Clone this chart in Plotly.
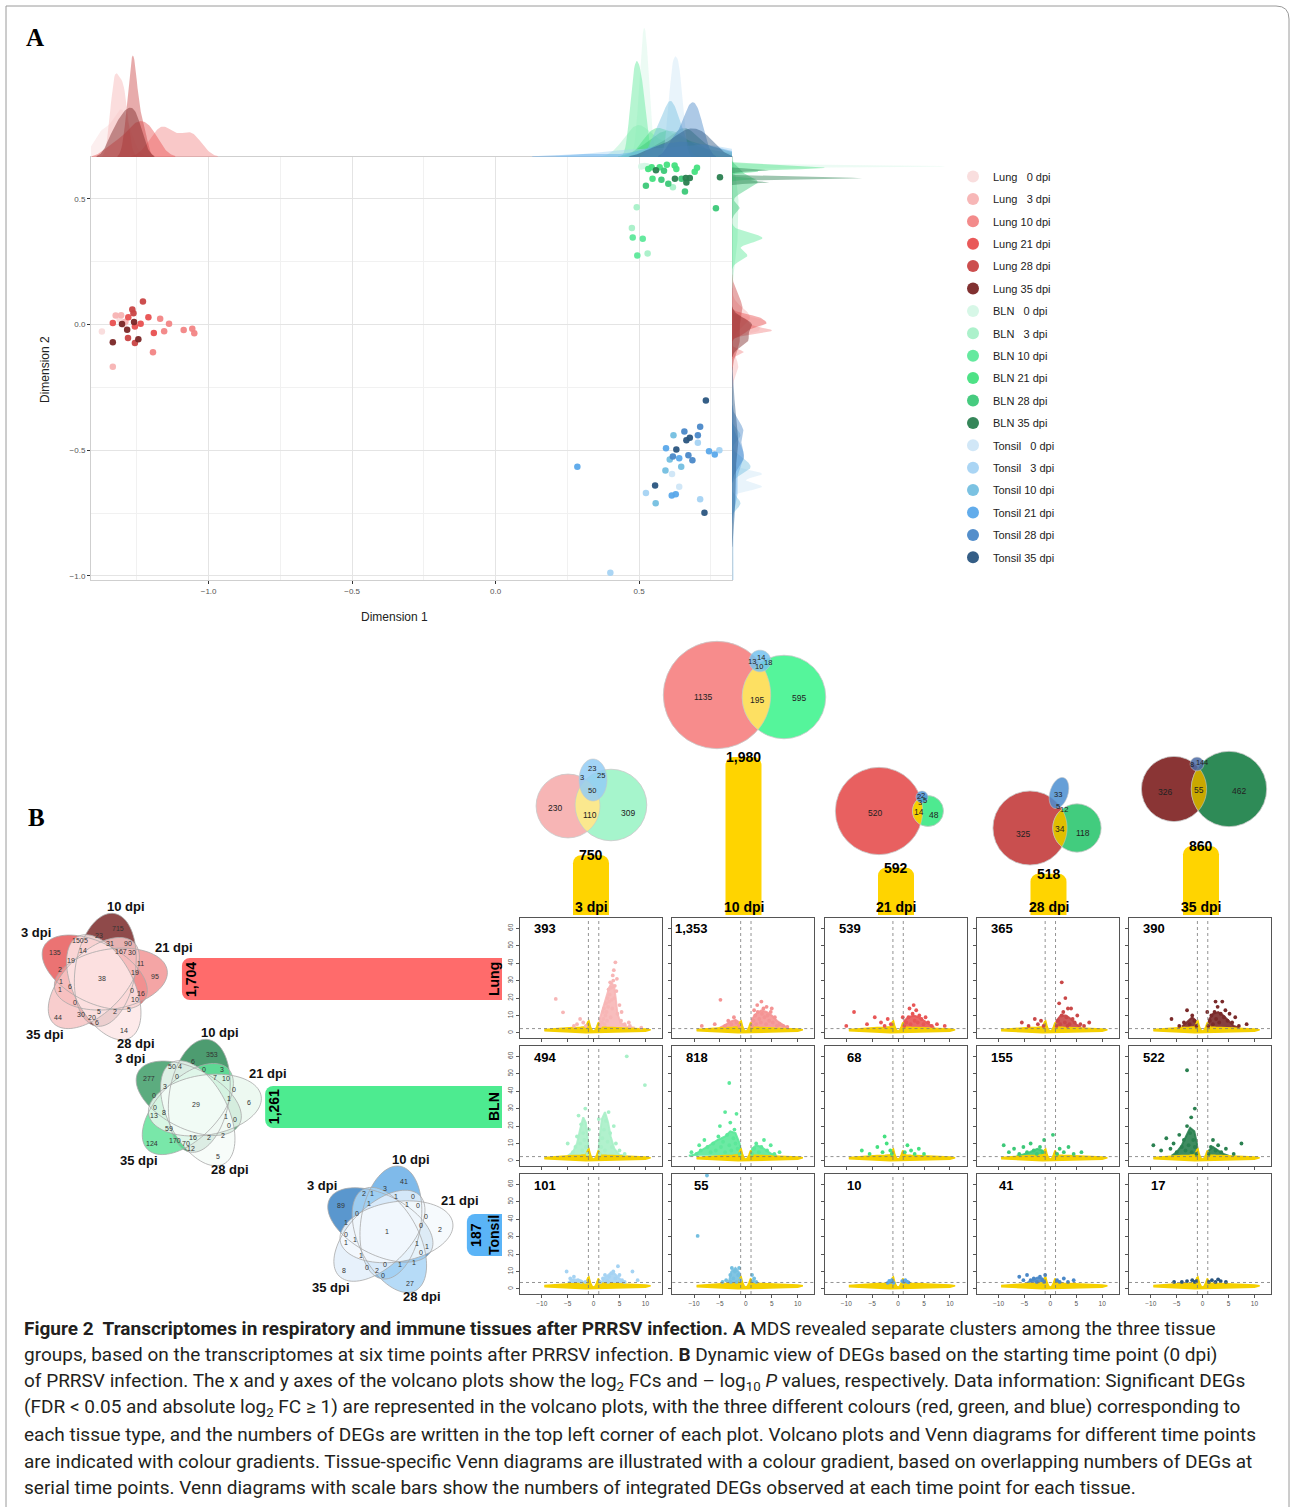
import numpy as np
import plotly.graph_objects as go

W, H = 1290, 1507
BASE = "Liberation Sans, Arial, sans-serif"

# ============================ DATA ============================
# ---- Panel A: MDS coordinates (Dimension 1, Dimension 2) ----
lung_0 = [(-1.372, -0.027), (-1.31, 0.02), (-1.295, 0.0)]
lung_3 = [(-1.334, -0.168), (-1.324, 0.036), (-1.305, 0.037), (-1.29, 0.012)]
lung_10 = [(-1.194, -0.110), (-1.169, 0.023), (-1.155, -0.026), (-1.138, 0.004),
           (-1.087, -0.021), (-1.057, -0.016), (-1.050, -0.034)]
lung_21 = [(-1.334, 0.007), (-1.28, 0.029), (-1.257, -0.007), (-1.237, 0.004),
           (-1.21, 0.029), (-1.191, -0.033)]
lung_28 = [(-1.229, 0.092), (-1.281, -0.053), (-1.266, 0.060), (-1.257, -0.073), (-1.262, 0.045)]
lung_35 = [(-1.334, -0.070), (-1.302, 0.003), (-1.284, -0.020), (-1.26, 0.011), (-1.245, -0.058)]
bln_0 = [(0.508, 0.629), (0.519, 0.631), (0.527, 0.630)]
bln_3 = [(0.475, 0.385), (0.530, 0.283), (0.618, 0.547), (0.492, 0.467)]
bln_10 = [(0.478, 0.347), (0.513, 0.342), (0.494, 0.275)]
bln_21 = [(0.532, 0.619), (0.544, 0.626), (0.572, 0.626), (0.597, 0.636), (0.624, 0.633),
          (0.63, 0.619), (0.694, 0.608), (0.702, 0.624), (0.547, 0.580)]
bln_28 = [(0.524, 0.553), (0.578, 0.576), (0.602, 0.561), (0.587, 0.612), (0.648, 0.580),
          (0.66, 0.530), (0.768, 0.463)]
bln_35 = [(0.559, 0.614), (0.625, 0.580), (0.663, 0.583), (0.677, 0.583), (0.665, 0.566), (0.782, 0.586)]
tonsil_0 = [(0.64, -0.645), (0.615, -0.594)]
tonsil_3 = [(0.40, -0.987), (0.524, -0.67), (0.713, -0.695), (0.78, -0.50), (0.705, -0.47)]
tonsil_10 = [(0.62, -0.44), (0.607, -0.537), (0.647, -0.565), (0.592, -0.58), (0.558, -0.711)]
tonsil_21 = [(0.285, -0.565), (0.594, -0.492), (0.64, -0.532), (0.744, -0.504), (0.764, -0.517),
             (0.614, -0.68), (0.628, -0.675)]
tonsil_28 = [(0.713, -0.406), (0.705, -0.44), (0.658, -0.425), (0.618, -0.525), (0.672, -0.52), (0.686, -0.54)]
tonsil_35 = [(0.733, -0.302), (0.677, -0.45), (0.665, -0.46), (0.63, -0.497), (0.556, -0.640), (0.728, -0.748)]

mds_names = ["Lung\u00a0\u00a0\u00a00 dpi", "Lung\u00a0\u00a0\u00a03 dpi", "Lung 10 dpi", "Lung 21 dpi",
             "Lung 28 dpi", "Lung 35 dpi",
             "BLN\u00a0\u00a0\u00a00 dpi", "BLN\u00a0\u00a0\u00a03 dpi", "BLN 10 dpi", "BLN 21 dpi",
             "BLN 28 dpi", "BLN 35 dpi",
             "Tonsil\u00a0\u00a0\u00a00 dpi", "Tonsil\u00a0\u00a0\u00a03 dpi", "Tonsil 10 dpi", "Tonsil 21 dpi",
             "Tonsil 28 dpi", "Tonsil 35 dpi"]
mds_points = [lung_0, lung_3, lung_10, lung_21, lung_28, lung_35,
              bln_0, bln_3, bln_10, bln_21, bln_28, bln_35,
              tonsil_0, tonsil_3, tonsil_10, tonsil_21, tonsil_28, tonsil_35]
mds_colors = ["#f9dcdc", "#f7b3b3", "#f28585", "#e85050", "#c94545", "#7a2626",
              "#d5f7e6", "#a8f0c8", "#5de89a", "#44e080", "#3cc878", "#2a8050",
              "#cfe6f7", "#a5d3f3", "#74bfe0", "#5aa8ea", "#4a88c8", "#2a5580"]

# ---- Panel B ----
time_points = ["3 dpi", "10 dpi", "21 dpi", "28 dpi", "35 dpi"]
integrated_degs = [750, 1980, 592, 518, 860]
tissues = ["Lung", "BLN", "Tonsil"]
tissue_degs = [1704, 1261, 187]
deg_lung = [393, 1353, 539, 365, 390]
deg_bln = [494, 818, 68, 155, 522]
deg_tonsil = [101, 55, 10, 41, 17]

# volcano plots: individual significant DEGs (log2FC, -log10 P)
volc_lung_3 = [(1.3, 4), (1.6, 6), (1.9, 8), (2.1, 5), (2.3, 10), (2.5, 12), (2.6, 7), (2.8, 15), (3.0, 18),
               (3.1, 22), (3.3, 9), (3.4, 26), (3.6, 14), (3.8, 30), (4.0, 20), (4.2, 40.5), (4.4, 24),
               (4.6, 11), (5.0, 16), (5.3, 7), (6.0, 5), (7.0, 4), (9.2, 3), (-1.5, 4), (-2.0, 6),
               (-2.6, 8), (-3.2, 5), (-3.8, 4), (-5.9, 11.8), (-7.3, 19.5), (1.8, 12), (2.4, 17),
               (3.2, 29), (3.7, 33), (2.9, 25), (2.0, 14), (2.7, 20), (3.5, 19), (4.1, 27), (4.5, 31),
               (3.9, 36), (5.4, 12), (6.8, 6)]
volc_lung_10 = [(1.2, 4), (1.5, 7), (1.8, 10), (2.0, 5), (2.3, 12), (2.6, 8), (2.9, 6), (3.1, 11), (3.4, 14),
                (3.6, 9), (3.9, 5), (4.2, 10), (4.5, 7), (4.8, 12), (5.2, 6), (5.6, 9), (6.0, 4), (6.5, 5),
                (7.2, 4), (8.0, 3.5), (2.2, 16), (3.0, 18), (-1.3, 4), (-1.8, 6), (-2.3, 9), (-2.8, 5),
                (-3.4, 7), (-4.0, 4), (-4.9, 19), (-6.0, 5), (-8.5, 4), (1.6, 13), (4.0, 15), (5.0, 14)]
volc_lung_21 = [(1.2, 4), (1.6, 6), (2.0, 9), (2.4, 5), (2.8, 11), (3.2, 7), (3.5, 13), (3.8, 6), (4.1, 10),
                (4.5, 8), (4.9, 5), (5.3, 9), (5.8, 6), (6.5, 4), (7.5, 5), (9.0, 4), (-1.4, 5), (-2.0, 8),
                (-2.6, 4), (-3.3, 6), (-4.5, 9), (-6.0, 5), (-8.5, 12), (-10.0, 4), (2.2, 14), (3.0, 16),
                (0.9, 9)]
volc_lung_28 = [(1.2, 4), (1.5, 7), (1.9, 5), (2.2, 10), (2.2, 29), (2.5, 12), (2.8, 6), (3.1, 9), (3.4, 14),
                (3.7, 5), (4.0, 14), (4.3, 8), (4.7, 6), (5.2, 10), (5.8, 5), (6.5, 4), (7.5, 6), (-1.3, 4),
                (-1.8, 7), (-2.4, 5), (-3.0, 8), (-4.2, 4), (-5.5, 6), (1.7, 17), (2.9, 20), (3.3, 4)]
volc_lung_35 = [(1.1, 4), (1.4, 7), (1.7, 10), (2.0, 5), (2.3, 12), (2.6, 8), (2.9, 15), (3.2, 6), (3.5, 11),
                (3.8, 18), (4.1, 9), (4.4, 13), (4.8, 7), (5.2, 11), (5.7, 6), (6.3, 9), (7.0, 4), (8.5, 5),
                (-1.2, 4), (-1.6, 7), (-2.0, 10), (-2.5, 5), (-3.0, 13), (-3.6, 6), (-4.5, 4), (-6.0, 8),
                (2.5, 18), (0.9, 12)]
volc_bln_3 = [(-1.2, 4), (-1.5, 8), (-1.8, 12), (-2.0, 16), (-2.2, 6), (-2.4, 21), (-2.6, 10), (-2.9, 26),
              (-3.2, 14), (-3.5, 8), (-4.0, 5), (-5.0, 10), (-1.6, 30), (1.2, 4), (1.5, 8), (1.7, 13),
              (2.0, 18), (2.2, 6), (2.4, 23), (2.7, 11), (2.9, 28), (3.2, 16), (3.5, 8), (3.9, 20),
              (4.3, 10), (5.0, 6), (6.0, 4), (6.4, 60), (9.9, 43.5), (-0.9, 18), (1.0, 24)]
volc_bln_10 = [(-1.2, 4), (-1.6, 7), (-2.0, 10), (-2.4, 13), (-2.8, 6), (-3.2, 9), (-3.6, 15), (-4.0, 5),
               (-4.4, 11), (-4.8, 8), (-5.3, 14), (-5.8, 6), (-6.3, 10), (-6.8, 5), (-7.4, 8), (-8.0, 12),
               (-8.7, 6), (-9.5, 4), (-2.2, 18), (-3.0, 22), (-1.8, 27), (-3.2, 44.7), (1.2, 4), (1.6, 7),
               (2.0, 10), (2.5, 5), (3.0, 8), (3.5, 12), (4.1, 6), (4.8, 9), (5.5, 4), (6.5, 5),
               (-5.0, 20), (-4.0, 28), (-10.5, 5), (-9.0, 9)]
volc_bln_21 = [(-7.0, 6), (-5.5, 4), (-4.0, 8), (-3.0, 5), (-2.2, 10), (-1.5, 6), (-1.2, 4), (1.3, 5),
               (1.8, 9), (2.5, 6), (3.2, 4), (4.0, 7), (5.0, 4), (-2.6, 14)]
volc_bln_28 = [(-9.0, 9), (-8.0, 5), (-7.0, 7), (-6.0, 4), (-5.2, 8), (-4.5, 5), (-3.8, 10), (-3.2, 6),
               (-2.6, 4), (-2.0, 8), (-1.5, 5), (-1.2, 12), (1.3, 4), (1.8, 7), (2.6, 5), (3.5, 8),
               (4.5, 4), (6.0, 5), (0.5, 15)]
volc_bln_35 = [(-1.2, 4), (-1.5, 8), (-1.8, 12), (-2.1, 5), (-2.4, 16), (-2.7, 9), (-3.0, 20), (-3.3, 6),
               (-3.6, 12), (-4.0, 8), (-4.5, 15), (-5.0, 5), (-5.6, 10), (-6.2, 7), (-7.0, 13), (-8.0, 6),
               (-9.5, 9), (-3.0, 52), (-2.2, 25), (-1.5, 30), (1.2, 4), (1.6, 8), (2.0, 12), (2.5, 6),
               (3.0, 9), (3.6, 5), (4.5, 7), (6.0, 4), (7.5, 10)]
volc_tonsil_3 = [(-5.2, 10), (-4.5, 6), (-3.8, 7), (-3.0, 5), (-2.4, 4), (-1.6, 4), (-4.0, 4.5), (1.3, 4),
                 (1.8, 6), (2.2, 8), (2.6, 5), (3.0, 7), (3.4, 9), (3.8, 10), (4.2, 6), (4.7, 13), (5.0, 8),
                 (5.5, 5), (6.0, 4), (7.5, 10), (8.5, 5), (2.8, 4)]
volc_tonsil_10 = [(-7.5, 65), (-9.3, 30.4), (-3.0, 8), (-2.7, 12), (-2.4, 6), (-2.1, 10), (-1.8, 4),
                  (-1.5, 8), (-1.3, 12), (-1.1, 5), (-2.9, 4), (-3.8, 5), (-4.5, 4), (1.2, 8), (1.6, 6),
                  (2.0, 4), (1.4, 4.5)]
volc_tonsil_21 = [(-1.5, 4), (-1.2, 5), (-0.9, 3.5), (1.1, 4), (1.4, 5), (0.8, 4.5), (-2.0, 3.5), (2.0, 3.8),
                  (1.7, 4.2), (-1.7, 4.6)]
volc_tonsil_28 = [(-6.0, 7), (-5.2, 5), (-4.5, 8), (-3.8, 5), (-3.2, 6), (-2.6, 4), (-2.0, 7), (-1.5, 5),
                  (-1.2, 4), (1.3, 5), (1.8, 4), (2.6, 6), (3.4, 4), (4.5, 5), (-1.0, 8)]
volc_tonsil_35 = [(-4.0, 4), (-3.0, 4.5), (-2.0, 5), (-1.5, 4), (-1.2, 4.5), (1.2, 4), (1.8, 5), (2.5, 4),
                  (3.5, 4.5), (4.5, 4), (-5.5, 4), (3.0, 5.5)]

# outlines of the densest clouds of significant DEGs in each volcano plot
cloud_lung_3 = [[(1.0, 3), (1.2, 8), (1.8, 14), (2.4, 20), (3.0, 26), (3.5, 29), (4.0, 26), (4.3, 19),
                 (4.6, 11), (5.2, 6), (6.5, 3.5), (8.0, 3)]]
cloud_lung_10 = [[(0.9, 3), (1.2, 8), (2.0, 11), (3.0, 13), (4.0, 12), (5.0, 10), (6.0, 7), (7.0, 5), (8.0, 3)],
                 [(-1.0, 3), (-1.3, 6), (-2.0, 7.5), (-3.0, 6.5), (-4.0, 4.5), (-5.0, 3)]]
cloud_lung_21 = [[(0.9, 3), (1.2, 7), (2.0, 9), (3.0, 10), (4.0, 9), (5.0, 7), (6.0, 4.5), (7.0, 3)]]
cloud_lung_28 = [[(0.9, 3), (1.2, 7), (2.0, 10), (3.0, 10), (4.0, 8), (5.0, 5), (6.0, 3)]]
cloud_lung_35 = [[(0.9, 3), (1.3, 8), (2.0, 11), (3.0, 12), (4.0, 10), (5.0, 7), (6.0, 4), (7.0, 3)],
                 [(-1.0, 3), (-1.3, 7), (-2.0, 9), (-3.0, 6), (-4.0, 3.5)]]
cloud_bln_3 = [[(-0.9, 3), (-1.1, 12), (-1.5, 22), (-2.0, 25), (-2.6, 18), (-3.2, 10), (-4.0, 5), (-5.0, 3)],
               [(0.9, 3), (1.1, 12), (1.6, 24), (2.2, 28), (2.8, 22), (3.3, 14), (4.0, 7), (5.0, 3.5),
                (6.0, 3)]]
cloud_bln_10 = [[(-0.9, 3), (-1.2, 10), (-2.0, 16), (-3.0, 17), (-4.0, 14), (-5.5, 12), (-7.0, 9),
                 (-8.5, 6), (-10.0, 3.5), (-11.0, 3)],
                [(0.9, 3), (1.2, 7), (2.0, 9), (3.0, 8), (4.0, 6), (5.0, 4), (6.0, 3)]]
cloud_bln_21 = []
cloud_bln_28 = [[(-1.0, 3), (-1.5, 6), (-2.5, 7), (-4.0, 5), (-5.5, 3.5), (-6.5, 3)]]
cloud_bln_35 = [[(-0.9, 3), (-1.1, 10), (-1.6, 17), (-2.4, 19), (-3.2, 14), (-4.0, 9), (-5.0, 5), (-6.0, 3)],
                [(0.9, 3), (1.2, 6), (2.0, 8), (3.0, 6), (4.0, 4), (5.0, 3)]]
cloud_tonsil_3 = [[(1.5, 3), (2.0, 6), (3.0, 8.5), (4.0, 9), (5.0, 6), (5.8, 3)],
                  [(-1.5, 3), (-2.5, 5), (-4.0, 5.5), (-5.0, 3.5)]]
cloud_tonsil_10 = [[(-1.0, 3.5), (-1.2, 9), (-2.0, 12), (-2.8, 10), (-3.2, 5), (-3.5, 3.5)]]
cloud_tonsil_21 = []
cloud_tonsil_28 = [[(-1.0, 3.5), (-1.5, 6), (-2.5, 6.5), (-3.5, 5), (-4.5, 3.5)]]
cloud_tonsil_35 = []

# outline of the dense cloud of non-significant genes (yellow)
nonsig_x = [-9.5, -8, -6, -4, -2.5, -1.5, -1.1, -0.9, -0.6, -0.3, 0, 0.3, 0.6, 0.9, 1.1, 1.5, 2.5, 4, 6, 8,
            10, 11, 10, 8, 6, 4, 2.5, 1.5, 0.8, 0.3, 0, -0.3, -0.8, -1.5, -2.5, -4, -6, -8, -9.5]
nonsig_y = [2.0, 2.4, 2.8, 3.1, 3.3, 3.6, 6.5, 7.0, 3.5, 1.6, 1.0, 1.6, 3.5, 6.0, 5.0, 3.4, 3.2, 3.1, 2.9,
            2.6, 2.3, 1.8, 1.0, 0.8, 0.6, 0.4, 0.25, 0.1, 0, 0, 0, 0, 0, 0.1, 0.25, 0.4, 0.6, 0.8, 1.2]
sig_threshold = [2.5, 2.5, 3.7]

# tissue-overlap Venn diagrams per time point
venn3_3dpi = [230, 110, 309, 50, 23, 25, 3]
venn3_10dpi = [1135, 195, 595, 13, 14, 10, 18]
venn3_21dpi = [520, 14, 48, 2, 2, 3, 5]
venn3_28dpi = [325, 34, 118, 33, 5, 12]
venn3_35dpi = [326, 55, 462, 8, 1, 4, 4]

# time-point Venn diagrams per tissue (31 regions)
venn5_lung = [715, 23, 150, 5, 31, 90, 14, 167, 30, 135, 19, 11, 2, 19, 95, 1, 6, 1, 0, 16, 10, 0, 5, 2, 5,
              44, 30, 20, 6, 14, 38]
venn5_bln = [353, 6, 50, 4, 0, 3, 0, 7, 10, 277, 3, 0, 0, 1, 6, 0, 8, 13, 1, 0, 0, 59, 16, 2, 2, 124, 170,
             70, 12, 5, 29]
venn5_tonsil = [41, 3, 2, 1, 1, 0, 1, 1, 0, 89, 0, 0, 1, 0, 2, 0, 1, 1, 1, 1, 0, 1, 0, 1, 1, 8, 0, 2, 0,
                27, 1]


# ============================ HELPERS ============================
def rgba(h, a):
    h = h.lstrip("#")
    return "rgba(%d,%d,%d,%.3f)" % (int(h[0:2], 16), int(h[2:4], 16), int(h[4:6], 16), a)


def kde(vals, grid, floor, robust=True):
    v = np.asarray(vals, float)
    n = len(v)
    sd = v.std(ddof=1) if n > 1 else 0.05
    q75, q25 = np.percentile(v, [75, 25])
    s = min(sd, (q75 - q25) / 1.34) if (robust and q75 > q25) else sd
    bw = max(0.9 * s * n ** (-0.2), floor)
    return np.exp(-0.5 * ((grid[:, None] - v[None, :]) / bw) ** 2).sum(1) / (n * bw * np.sqrt(2 * np.pi))


def support(grid, dens, thr):
    keep = dens > thr
    return grid[keep], dens[keep]


def ell_path(cx, cy, a, b, ang_deg, n=90):
    t = np.linspace(0, 2 * np.pi, n, endpoint=False)
    ang = np.radians(ang_deg)
    xs = cx + b * np.cos(t) * np.cos(ang) - a * np.sin(t) * np.sin(ang)
    ys = cy + b * np.cos(t) * np.sin(ang) + a * np.sin(t) * np.cos(ang)
    return "M" + " L".join("%.2f,%.2f" % (x, y) for x, y in zip(xs, ys)) + " Z"


def lens_path(c1, r1, c2, r2, n=40):
    dx, dy = c2[0] - c1[0], c2[1] - c1[1]
    d = np.hypot(dx, dy)
    a = (r1 ** 2 - r2 ** 2 + d ** 2) / (2 * d)
    th = np.arctan2(dy, dx)
    al1 = np.arccos(np.clip(a / r1, -1, 1))
    al2 = np.arccos(np.clip((d - a) / r2, -1, 1))
    t1 = np.linspace(th - al1, th + al1, n)
    p1 = [(c1[0] + r1 * np.cos(t), c1[1] + r1 * np.sin(t)) for t in t1]
    t2 = np.linspace(th + np.pi - al2, th + np.pi + al2, n)
    p2 = [(c2[0] + r2 * np.cos(t), c2[1] + r2 * np.sin(t)) for t in t2]
    if np.hypot(p2[0][0] - p1[-1][0], p2[0][1] - p1[-1][1]) > 1:
        p2 = p2[::-1]
    pts = p1 + p2
    return "M" + " L".join("%.2f,%.2f" % p for p in pts) + " Z"


fig = go.Figure()
layout = {}
shapes = []
anns = []
PX, PY = "x21", "y21"


def txt(text, x, y, size, color="#111", angle=0, xanchor="center", yanchor="middle", family=BASE):
    anns.append(dict(text=text, x=x, y=y, xref=PX, yref=PY, showarrow=False, textangle=angle,
                     xanchor=xanchor, yanchor=yanchor, font=dict(size=size, color=color, family=family)))


# ============================ PANEL A ============================
XR = [-1.41, 0.824]
YR = [-1.016, 0.667]
tick_txt = ["\u22121.0", "\u22120.5", "0.0", "0.5"]
layout["xaxis"] = dict(domain=[91 / W, 732 / W], range=XR, anchor="y", tickvals=[-1, -0.5, 0, 0.5],
                       ticktext=tick_txt, showgrid=True, gridcolor="#e4e4e4", gridwidth=1,
                       minor=dict(tickvals=[-1.25, -0.75, -0.25, 0.25, 0.75], showgrid=True,
                                  gridcolor="#f1f1f1", gridwidth=1),
                       showline=True, linecolor="#cfcfcf", mirror=True, ticks="outside", ticklen=3,
                       tickcolor="#333", tickfont=dict(size=8, color="#555", family=BASE), zeroline=False)
layout["yaxis"] = dict(domain=[1 - 580 / H, 1 - 157 / H], range=YR, anchor="x", tickvals=[-1, -0.5, 0, 0.5],
                       ticktext=tick_txt, showgrid=True, gridcolor="#e4e4e4", gridwidth=1,
                       minor=dict(tickvals=[-0.75, -0.25, 0.25], showgrid=True, gridcolor="#f1f1f1",
                                  gridwidth=1),
                       showline=True, linecolor="#cfcfcf", mirror=True, ticks="outside", ticklen=3,
                       tickcolor="#333", tickfont=dict(size=8, color="#555", family=BASE), zeroline=False)

gx = np.linspace(XR[0], XR[1], 800)
gy = np.linspace(YR[0], YR[1], 800)
top_max, right_max = 0, 0
for pts, col in zip(mds_points, mds_colors):
    xs = [p[0] for p in pts]
    ys = [p[1] for p in pts]
    dx = kde(xs, gx, 0.014, robust=False)
    dy = kde(ys, gy, 0.004)
    top_max = max(top_max, dx.max())
    right_max = max(right_max, dy.max())
    sx, sdx = support(gx, dx, 0.15)
    sy, sdy = support(gy, dy, 0.15)
    fig.add_trace(go.Scatter(x=sx, y=sdx, mode="lines", fill="tozeroy", fillcolor=rgba(col, 0.45),
                             line=dict(color=rgba(col, 0.0), width=0), xaxis="x2", yaxis="y2",
                             showlegend=False, hoverinfo="skip"))
    fig.add_trace(go.Scatter(x=sdy, y=sy, mode="lines", fill="tozerox", fillcolor=rgba(col, 0.45),
                             line=dict(color=rgba(col, 0.0), width=0), xaxis="x3", yaxis="y3",
                             showlegend=False, hoverinfo="skip"))
layout["xaxis2"] = dict(domain=[91 / W, 732 / W], range=XR, anchor="y2", visible=False)
layout["yaxis2"] = dict(domain=[1 - 157 / H, 1 - 28 / H], range=[0, top_max], anchor="x2", visible=False)
layout["xaxis3"] = dict(domain=[732 / W, 945 / W], range=[0, right_max], anchor="y3", visible=False)
layout["yaxis3"] = dict(domain=[1 - 580 / H, 1 - 157 / H], range=YR, anchor="x3", visible=False)

for name, pts, col in zip(mds_names, mds_points, mds_colors):
    fig.add_trace(go.Scatter(x=[p[0] for p in pts], y=[p[1] for p in pts], mode="markers", name=name,
                             legendgroup=name, marker=dict(size=6.5, color=col, opacity=0.95),
                             xaxis="x", yaxis="y"))

txt("Dimension 1", 394, 617, 12, "#222")
txt("Dimension 2", 45, 370, 12, "#222", angle=-90)
txt("<b>A</b>", 35, 37, 25, "#000", family="Liberation Serif, serif")
txt("<b>B</b>", 36, 817, 25, "#000", family="Liberation Serif, serif")

# ============================ PANEL B ============================
# --- yellow integrated-DEG bars ---
fig.add_trace(go.Bar(x=time_points, y=integrated_degs, xaxis="x4", yaxis="y4", width=0.236,
                     marker=dict(color="#ffd400", cornerradius=8, line=dict(width=0)),
                     showlegend=False, hoverinfo="skip"))
layout["xaxis4"] = dict(domain=[514.75 / W, 1277.25 / W], type="category", categoryorder="array",
                        categoryarray=time_points, range=[-0.5, 4.5], anchor="y4", visible=False)
layout["yaxis4"] = dict(domain=[1 - 915 / H, 1 - 757 / H], range=[0, 1980], anchor="x4", visible=False)
for tp, v in zip(time_points, integrated_degs):
    anns.append(dict(text="<b>%s</b>" % format(v, ","), x=tp, y=v, xref="x4", yref="y4", showarrow=False,
                     yanchor="middle", yshift=0, font=dict(size=14, color="#000", family=BASE)))
    anns.append(dict(text="<b>%s</b>" % tp, x=tp, y=0, xref="x4", yref="y4", showarrow=False,
                     yanchor="bottom", yshift=-2, font=dict(size=14, color="#000", family=BASE)))

# --- tissue bars ---
tissue_bar_colors = ["#ff6b6b", "#4deb90", "#5ab4f7"]
fig.add_trace(go.Bar(y=tissues, x=tissue_degs, orientation="h", xaxis="x5", yaxis="y5", width=0.33,
                     marker=dict(color=tissue_bar_colors, cornerradius=8, line=dict(width=0)),
                     showlegend=False, hoverinfo="skip"))
layout["xaxis5"] = dict(domain=[178 / W, 502 / W], range=[1725, 0], anchor="y5", visible=False)
layout["yaxis5"] = dict(domain=[1 - 1299 / H, 1 - 915 / H], type="category", categoryorder="array",
                        categoryarray=tissues, range=[2.5, -0.5], anchor="x5", visible=False)
for t, v in zip(tissues, tissue_degs):
    anns.append(dict(text="<b>%s</b>" % format(v, ","), x=v, y=t, xref="x5", yref="y5", showarrow=False,
                     textangle=-90, xshift=9, font=dict(size=14, color="#000", family=BASE)))
    anns.append(dict(text="<b>%s</b>" % t, x=0, y=t, xref="x5", yref="y5", showarrow=False,
                     textangle=-90, xshift=-8, font=dict(size=14, color="#000", family=BASE)))

# --- volcano plots ---
volc_rows = [
    ([volc_lung_3, volc_lung_10, volc_lung_21, volc_lung_28, volc_lung_35],
     [cloud_lung_3, cloud_lung_10, cloud_lung_21, cloud_lung_28, cloud_lung_35], deg_lung,
     ["#f7b6b6", "#f49494", "#e85656", "#c94848", "#7a2a2a"]),
    ([volc_bln_3, volc_bln_10, volc_bln_21, volc_bln_28, volc_bln_35],
     [cloud_bln_3, cloud_bln_10, cloud_bln_21, cloud_bln_28, cloud_bln_35], deg_bln,
     ["#a8f0c8", "#5ce89a", "#44e080", "#3cc878", "#2a8050"]),
    ([volc_tonsil_3, volc_tonsil_10, volc_tonsil_21, volc_tonsil_28, volc_tonsil_35],
     [cloud_tonsil_3, cloud_tonsil_10, cloud_tonsil_21, cloud_tonsil_28, cloud_tonsil_35], deg_tonsil,
     ["#a5d3f3", "#74bfe0", "#5aa8ea", "#4a88c8", "#2a5580"]),
]
for r, (sets, clouds, counts, cols) in enumerate(volc_rows):
    for c in range(5):
        idx = 6 + r * 5 + c
        xa, ya = "x%d" % idx, "y%d" % idx
        left = 520 + 152.25 * c
        top = 918 + 128 * r
        for poly in clouds[c]:
            fig.add_trace(go.Scatter(x=[p[0] for p in poly], y=[p[1] for p in poly], mode="lines",
                                     fill="toself", fillcolor=rgba(cols[c], 0.9),
                                     line=dict(color=rgba(cols[c], 0.9), width=2), xaxis=xa, yaxis=ya,
                                     showlegend=False, hoverinfo="skip"))
        fig.add_trace(go.Scatter(x=nonsig_x, y=nonsig_y, mode="lines", fill="toself", fillcolor="#f5d000",
                                 line=dict(color="#f5d000", width=1.5), xaxis=xa, yaxis=ya,
                                 showlegend=False, hoverinfo="skip"))
        pts = sets[c]
        fig.add_trace(go.Scatter(x=[p[0] for p in pts], y=[p[1] for p in pts], mode="markers",
                                 marker=dict(size=3.8, color=cols[c]), xaxis=xa, yaxis=ya,
                                 showlegend=False, hoverinfo="skip"))
        layout["xaxis%d" % idx] = dict(domain=[left / W, (left + 142) / W], range=[-14.2, 13.2], anchor=ya,
                                       tickvals=[-10, -5, 0, 5, 10],
                                       ticktext=["\u221210", "\u22125", "0", "5", "10"],
                                       showticklabels=(r == 2), ticks="outside", ticklen=3, tickcolor="#555",
                                       tickfont=dict(size=6.5, color="#555", family=BASE), showgrid=False,
                                       zeroline=False, showline=True, linecolor="#555", linewidth=1,
                                       mirror=True)
        layout["yaxis%d" % idx] = dict(domain=[1 - (top + 120) / H, 1 - top / H], range=[-2.9, 65.9],
                                       anchor=xa, tickvals=[0, 10, 20, 30, 40, 50, 60],
                                       showticklabels=(c == 0), ticks="outside", ticklen=3, tickcolor="#555",
                                       tickangle=-90, tickfont=dict(size=6.5, color="#555", family=BASE),
                                       showgrid=False, zeroline=False, showline=True, linecolor="#555",
                                       linewidth=1, mirror=True)
        for xv in (-1, 1):
            shapes.append(dict(type="line", xref=xa, yref=ya + " domain", x0=xv, x1=xv, y0=0, y1=1,
                               line=dict(color="#777", width=0.8, dash="dot"), layer="above"))
        shapes.append(dict(type="line", xref=xa + " domain", yref=ya, x0=0, x1=1, y0=sig_threshold[r],
                           y1=sig_threshold[r], line=dict(color="#777", width=0.8, dash="dot"), layer="above"))
        anns.append(dict(text="<b>%s</b>" % format(counts[c], ","), x=38 / 142, y=1 - 11 / 120,
                         xref=xa + " domain", yref=ya + " domain", showarrow=False, xanchor="right",
                         yanchor="middle", font=dict(size=13, color="#000", family=BASE)))

# --- three-tissue Venn diagrams (area ~ number of DEGs) ---
lung_v3_cols = ["#f7b5b5", "#f78c8c", "#e86060", "#c94f4f", "#8a3535"]
bln_v3_cols = ["#a6f5cc", "#55f59b", "#4eea90", "#42cc7e", "#2e8b57"]
ton_v3_cols = ["#93cdf5", "#74c2ee", "#4b93d8", "#4b8ed0", "#4a6aa5"]
lens_cols = ["#fbe88e", "#fde062", "#f5d000", "#e0bf00", "#c9a800"]
v3_scale = [1.61, 1.46, 1.88, 1.94, 1.65]
v3_lung_c = [(568, 806), (717, 695), (879, 811), (1030, 828), (1174, 789)]
v3_bln_c = [(611, 805), (784, 697), (928, 811), (1077, 828), (1229, 789)]
v3_ton = [(593, 780, 14, 21, 90), (760, 661, None, None, 0), (922, 797, None, None, 0),
          (1059, 793, 9, 16, -73), (1197, 764, None, None, 0)]
for i in range(5):
    k = v3_scale[i]
    rl = k * np.sqrt(deg_lung[i])
    rb = k * np.sqrt(deg_bln[i])
    cl, cb = v3_lung_c[i], v3_bln_c[i]
    shapes.append(dict(type="circle", xref=PX, yref=PY, x0=cl[0] - rl, x1=cl[0] + rl, y0=cl[1] - rl,
                       y1=cl[1] + rl, fillcolor=lung_v3_cols[i], line=dict(color="#c8c8c8", width=0.8)))
    shapes.append(dict(type="circle", xref=PX, yref=PY, x0=cb[0] - rb, x1=cb[0] + rb, y0=cb[1] - rb,
                       y1=cb[1] + rb, fillcolor=bln_v3_cols[i], line=dict(color="#c8c8c8", width=0.8)))
    shapes.append(dict(type="path", xref=PX, yref=PY, path=lens_path(cl, rl, cb, rb), fillcolor=lens_cols[i],
                       line=dict(color="#c8c8c8", width=0.6)))
    tx, ty, ta, tb, tang = v3_ton[i]
    if ta is None:
        rt = k * np.sqrt(deg_tonsil[i])
        ta, tb = rt, rt
    shapes.append(dict(type="path", xref=PX, yref=PY, path=ell_path(tx, ty, ta, tb, tang),
                       fillcolor=rgba(ton_v3_cols[i], 0.85), line=dict(color="#c8c8c8", width=0.6)))

v3_vals = [venn3_3dpi, venn3_10dpi, venn3_21dpi, venn3_28dpi, venn3_35dpi]
v3_pos = [[(555, 808), (590, 815), (628, 813), (592, 790), (592, 768), (601, 775), (582, 777)],
          [(703, 697), (757, 700), (799, 698), (752, 661), (761, 657), (759, 666), (768, 662)],
          [(875, 813), (919, 812), (934, 815), (919, 796), (923, 795), (920, 802), (925, 800)],
          [(1023, 834), (1060, 829), (1083, 833), (1058, 794), (1058, 806), (1064, 809)],
          [(1165, 792), (1199, 790), (1239, 791), (1192, 764), (1198, 762), (1202, 762), (1206, 762)]]
for vals, pos in zip(v3_vals, v3_pos):
    for j, (v, p) in enumerate(zip(vals, pos)):
        txt(str(v), p[0], p[1], 8.5 if j < 3 else 7.5, "#222")

# --- five-time-point Venn diagrams per tissue ---
venn5_offsets = [(50, -149), (-8, -128), (-70, -114), (-46, -113), (26, -105), (78, -103), (-55, -84),
                 (58, -79), (91, -78), (-139, -76), (-92, -52), (116, -43), (-124, -26), (101, -16),
                 (159, -4), (-123, 9), (-96, 25), (-124, 33), (90, 36), (119, 46), (101, 63), (-79, 72),
                 (-7, 99), (39, 100), (81, 94), (-130, 118), (-61, 110), (-30, 118), (-14, 133),
                 (67, 157), (0, 0)]
set_order = ["10 dpi", "21 dpi", "28 dpi", "35 dpi", "3 dpi"]
set_label_off = {"10 dpi": (72, -214), "3 dpi": (-196, -136), "21 dpi": (217, -93),
                 "35 dpi": (-170, 170), "28 dpi": (103, 197)}
venn5_specs = [
    ((101.7, 978.3), venn5_lung,
     {"10 dpi": "#7b2a2a", "3 dpi": "#e85a5a", "21 dpi": "#f29595", "35 dpi": "#f7c4c4", "28 dpi": "#fde6e6"},
     ["10 dpi", "3 dpi", "21 dpi", "35 dpi", "28 dpi"]),
    ((195.7, 1104.3), venn5_bln,
     {"10 dpi": "#2e8b57", "3 dpi": "#3f9e68", "21 dpi": "#eaf8ef", "35 dpi": "#62e39a", "28 dpi": "#f6fcf8"},
     ["10 dpi", "3 dpi", "35 dpi", "21 dpi", "28 dpi"]),
    ((387.3, 1231.0), venn5_tonsil,
     {"10 dpi": "#68aee6", "3 dpi": "#3d85c6", "21 dpi": "#f5f9fd", "35 dpi": "#e3effa", "28 dpi": "#a9d5f6"},
     ["3 dpi", "10 dpi", "28 dpi", "35 dpi", "21 dpi"]),
]
for (cx, cy), vals, cols, order in venn5_specs:
    geo = {}
    for k, s in enumerate(set_order):
        psi = -81 + 72 * k
        off = np.radians(psi + 14)
        geo[s] = (cx + 9.2 * np.cos(off), cy + 9.2 * np.sin(off), psi)
    for s in order:
        ex, ey, psi = geo[s]
        shapes.append(dict(type="path", xref=PX, yref=PY, path=ell_path(ex, ey, 30, 57, psi),
                           fillcolor=rgba(cols[s], 0.85), line=dict(width=0)))
    for s in set_order:
        ex, ey, psi = geo[s]
        shapes.append(dict(type="path", xref=PX, yref=PY, path=ell_path(ex, ey, 30, 57, psi),
                           fillcolor="rgba(0,0,0,0)", line=dict(color="#a8a8a8", width=0.8)))
    for v, (ox, oy) in zip(vals, venn5_offsets):
        txt(str(v), cx + ox / 3.0, cy + oy / 3.0, 7, "#333")
    for s in set_order:
        ox, oy = set_label_off[s]
        txt("<b>%s</b>" % s, cx + ox / 3.0, cy + oy / 3.0, 13, "#111")

# --- outer frame ---
shapes.append(dict(type="path", xref=PX, yref=PY,
                   path="M 6,1507 L 6,6 L 1276,6 Q 1289,6 1289,19 L 1289,1507",
                   line=dict(color="#9a9a9a", width=1)))

# --- caption ---
cap_lines = [
    "<b>Figure 2  Transcriptomes in respiratory and immune tissues after PRRSV infection. A</b> MDS revealed "
    "separate clusters among the three tissue",
    "groups, based on the transcriptomes at six time points after PRRSV infection. <b>B</b> Dynamic view of "
    "DEGs based on the starting time point (0 dpi)",
    "of PRRSV infection. The x and y axes of the volcano plots show the log<sub>2</sub> FCs and \u2013 "
    "log<sub>10</sub> <i>P</i> values, respectively. Data information: Significant DEGs",
    "(FDR &lt; 0.05 and absolute log<sub>2</sub> FC \u2265 1) are represented in the volcano plots, with the "
    "three different colours (red, green, and blue) corresponding to",
    "each tissue type, and the numbers of DEGs are written in the top left corner of each plot. Volcano plots "
    "and Venn diagrams for different time points",
    "are indicated with colour gradients. Tissue-specific Venn diagrams are illustrated with a colour "
    "gradient, based on overlapping numbers of DEGs at",
    "serial time points. Venn diagrams with scale bars show the numbers of integrated DEGs observed at each "
    "time point for each tissue.",
]
for i, line in enumerate(cap_lines):
    txt(line, 22, 1328 + 26.6 * i, 19, "#231f20", xanchor="left", family="Roboto, sans-serif")

# --- full-figure pixel axis ---
fig.add_trace(go.Scatter(x=[-50], y=[-50], mode="markers", marker=dict(opacity=0), xaxis=PX, yaxis=PY,
                         showlegend=False, hoverinfo="skip"))
layout["xaxis21"] = dict(domain=[0, 1], range=[0, W], anchor=PY, visible=False)
layout["yaxis21"] = dict(domain=[0, 1], range=[H, 0], anchor=PX, visible=False)

fig.update_layout(**layout)
fig.update_layout(
    width=W, height=H, autosize=False, margin=dict(l=0, r=0, t=0, b=0),
    paper_bgcolor="white", plot_bgcolor="rgba(0,0,0,0)",
    font=dict(family=BASE, size=11, color="#222"),
    shapes=shapes, annotations=anns,
    legend=dict(x=953 / W, y=1 - 162 / H, xanchor="left", yanchor="top", tracegroupgap=3.4,
                itemsizing="constant", bgcolor="rgba(0,0,0,0)",
                font=dict(size=11, color="#222", family=BASE)),
    showlegend=True,
)
fig.write_html("out.html", config={"displayModeBar": False},
               post_script="document.body.style.margin='0px';document.body.style.overflow='hidden';")
